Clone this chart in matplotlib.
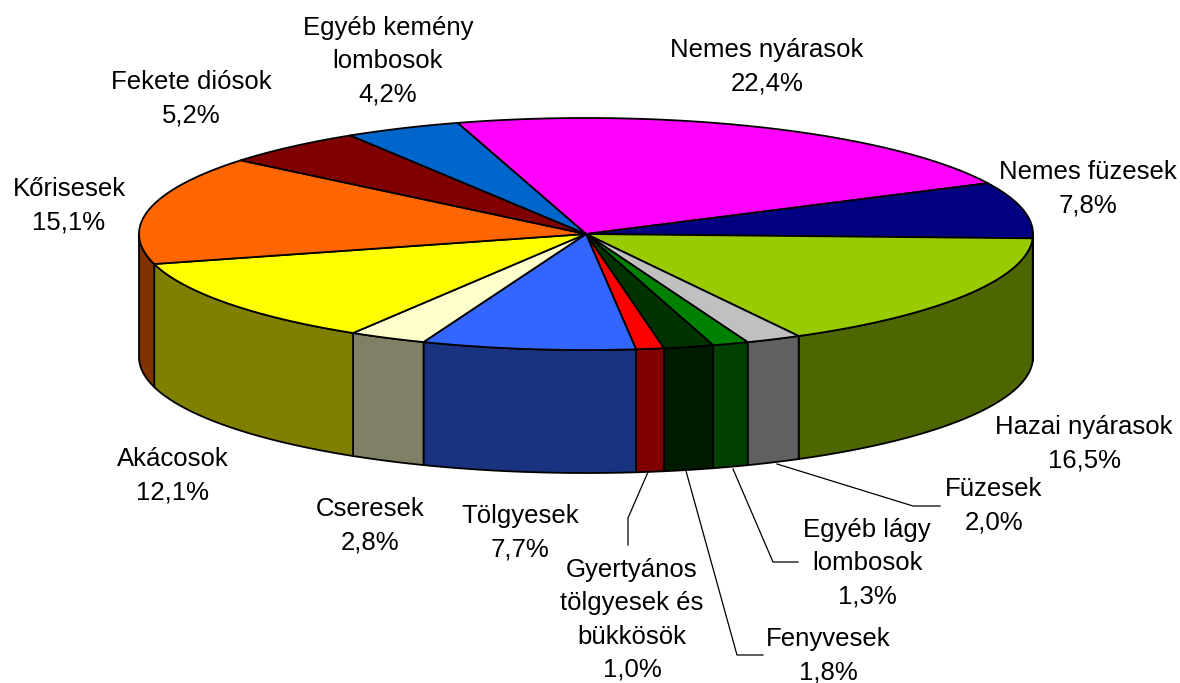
import numpy as np
import matplotlib
matplotlib.use("Agg")
import matplotlib.pyplot as plt
from matplotlib.patches import Polygon

W, H = 1180, 683
labels = ["Nemes nyárasok\n22,4%", "Nemes füzesek\n7,8%", "Hazai nyárasok\n16,5%", "Füzesek\n2,0%",
          "Egyéb lágy\nlombosok\n1,3%", "Fenyvesek\n1,8%", "Gyertyános\ntölgyesek és\nbükkösök\n1,0%",
          "Tölgyesek\n7,7%", "Cseresek\n2,8%", "Akácosok\n12,1%", "Kőrisesek\n15,1%",
          "Fekete diósok\n5,2%", "Egyéb kemény\nlombosok\n4,2%"]
values = [22.4, 7.8, 16.5, 2.0, 1.3, 1.8, 1.0, 7.7, 2.8, 12.1, 15.1, 5.2, 4.2]
top_colors = ["#FF00FF", "#000080", "#99CC00", "#C0C0C0", "#008000", "#003300", "#FF0000",
              "#3366FF", "#FFFFCC", "#FFFF00", "#FF6600", "#800000", "#0066CC"]
side_colors = ["#800080", "#000040", "#4D6600", "#606060", "#004000", "#001A00", "#800000",
               "#1A3380", "#808066", "#808000", "#803300", "#400000", "#003366"]
label_xy = [(767, 67), (1088, 189), (1084, 444), (994, 506), (867, 563), (828, 656),
            (632, 620), (520, 533), (370, 526), (173, 476), (69, 206), (191, 99), (388, 61)]
leaders = [None, None, None, [(777, 464), (913, 506), (940, 506)], [(733, 469), (773, 562), (798, 562)],
           [(686, 471), (737, 655), (763, 655)], [(648, 472), (628, 518), (628, 545)],
           None, None, None, None, None, None]

cx, cy, rx, ry, depth = 586, 234, 447, 116, 123
start = 106.7

plt.rcParams["font.family"] = ["Liberation Sans", "DejaVu Sans"]
fig = plt.figure(figsize=(W / 100, H / 100), dpi=100)
ax = fig.add_axes([0, 0, 1, 1])
ax.set_xlim(0, W)
ax.set_ylim(H, 0)
ax.axis("off")


def rim(a0, a1, n=200):
    t = np.radians(np.linspace(a0, a1, n))
    return cx + rx * np.cos(t), cy - ry * np.sin(t)


bounds = start - np.cumsum([0] + values) * 360 / sum(values)

# side walls (only the part of each slice on the front half of the rim)
sides = []
for i in range(len(values)):
    a0, a1 = bounds[i], bounds[i + 1]
    for k in (0, -360):
        lo, hi = max(a1 + k, -180), min(a0 + k, 0)
        if lo < hi:
            sides.append((lo, hi, i))
for lo, hi, i in sides:
    x, y = rim(hi, lo)
    pts = np.r_[np.c_[x, y], np.c_[x[::-1], y[::-1] + depth]]
    ax.add_patch(Polygon(pts, closed=True, fc=side_colors[i], ec="black", lw=1.3, joinstyle="round"))

# top faces
for i in range(len(values)):
    x, y = rim(bounds[i], bounds[i + 1])
    pts = np.r_[[[cx, cy]], np.c_[x, y]]
    ax.add_patch(Polygon(pts, closed=True, fc=top_colors[i], ec="black", lw=1.3, joinstyle="round"))

for lab, (x, y), lead in zip(labels, label_xy, leaders):
    ax.text(x, y, lab, ha="center", va="center", fontsize=18.5, color="black", linespacing=1.48)
    if lead:
        lx, ly = zip(*lead)
        ax.plot(lx, ly, color="black", lw=0.9)

fig.savefig("out.png", dpi=100)
